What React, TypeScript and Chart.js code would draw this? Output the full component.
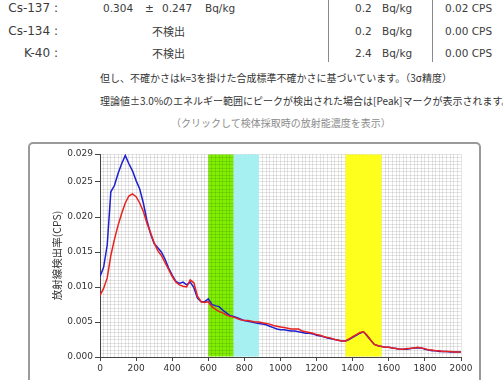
import React, { useEffect, useRef } from "react";
import { Chart, registerables } from "chart.js";

Chart.register(...registerables);

// ---- data ----
const energyStep = 20; // keV between channels below
const energyMax = 2000;

// measured spectrum (blue)
const blueCps = [
  0.0115, 0.0128, 0.0160, 0.0236, 0.0245, 0.0262, 0.0276, 0.0288, 0.0276, 0.0266,
  0.0252, 0.0240, 0.0220, 0.0195, 0.0176, 0.0162, 0.0156, 0.0150, 0.0140, 0.0127,
  0.0117, 0.0108, 0.0105, 0.0107, 0.0103, 0.0107, 0.0099, 0.0084, 0.0079, 0.0079,
  0.0083, 0.0075, 0.0073, 0.0072, 0.0067, 0.0063, 0.0059, 0.0058, 0.0056, 0.0054,
  0.0052, 0.0051, 0.0050, 0.0049, 0.0048, 0.0047, 0.0046, 0.0044, 0.0042, 0.0040,
  0.0039, 0.0039, 0.0038, 0.0037, 0.0037, 0.0036, 0.0035, 0.0034, 0.0034, 0.0033,
  0.0031, 0.0030, 0.0029, 0.0027, 0.0026, 0.0025, 0.0024, 0.0023, 0.0023, 0.0025,
  0.0028, 0.0031, 0.0034, 0.0036, 0.0030, 0.0024, 0.0018, 0.0016, 0.0015, 0.0014,
  0.0014, 0.0013, 0.0012, 0.0011, 0.0011, 0.0011, 0.0012, 0.0013, 0.0013, 0.0013,
  0.0011, 0.0010, 0.0009, 0.0009, 0.0008, 0.0008, 0.0008, 0.0007, 0.0007, 0.0007,
  0.0007,
];

// background / reference spectrum (red)
const redCps = [
  0.0088, 0.0098, 0.0113, 0.0145, 0.0168, 0.0188, 0.0205, 0.0220, 0.0230, 0.0233,
  0.0229, 0.0220, 0.0208, 0.0191, 0.0178, 0.0163, 0.0152, 0.0145, 0.0135, 0.0125,
  0.0115, 0.0107, 0.0103, 0.0101, 0.0100, 0.0110, 0.0106, 0.0087, 0.0079, 0.0078,
  0.0079, 0.0072, 0.0068, 0.0065, 0.0063, 0.0060, 0.0058, 0.0057, 0.0055, 0.0053,
  0.0052, 0.0052, 0.0051, 0.0050, 0.0050, 0.0049, 0.0048, 0.0047, 0.0045, 0.0044,
  0.0043, 0.0042, 0.0041, 0.0040, 0.0040, 0.0040, 0.0037, 0.0036, 0.0035, 0.0034,
  0.0032, 0.0031, 0.0029, 0.0028, 0.0027, 0.0025, 0.0024, 0.0023, 0.0023, 0.0026,
  0.0029, 0.0032, 0.0035, 0.0036, 0.0031, 0.0024, 0.0018, 0.0016, 0.0015, 0.0014,
  0.0014, 0.0013, 0.0012, 0.0011, 0.0011, 0.0012, 0.0012, 0.0013, 0.0014, 0.0013,
  0.0012, 0.0010, 0.0010, 0.0009, 0.0009, 0.0008, 0.0008, 0.0008, 0.0007, 0.0007,
  0.0007,
];

const yMax = 0.029;
const xMajorStep = 200;
const xMinorStep = 20;
const yMinorStep = 0.0005;
const yMajorStepMilli = 5; // 0.005

// energy windows [from, to]
const greenWindow = [600, 740];
const cyanWindow = [740, 880];
const yellowWindow = [1360, 1560];

const yAxisTitle = "放射線検出率(CPS)";

// ---- styles ----
const LATIN = '"DejaVu Sans", "Noto Sans CJK JP", sans-serif';
const CJK = '"Noto Sans CJK JP", "DejaVu Sans", sans-serif';
const GRID = "rgba(0,0,0,0.1)";
const AXIS = "#444";

const bands = [
  { range: greenWindow, color: "#80f000", underGrid: true },
  { range: cyanWindow, color: "#a6f0f2", underGrid: false },
  { range: yellowWindow, color: "#ffff1e", underGrid: false },
];

function drawBands(chart: any, underGrid: boolean) {
  const { ctx, chartArea, scales } = chart;
  ctx.save();
  bands
    .filter((b) => b.underGrid === underGrid)
    .forEach((b) => {
      const x1 = scales.x.getPixelForValue(b.range[0]);
      const x2 = scales.x.getPixelForValue(b.range[1]);
      ctx.fillStyle = b.color;
      ctx.fillRect(x1, chartArea.top + 0.5, x2 - x1, chartArea.bottom - chartArea.top - 1);
    });
  ctx.restore();
}

const bandPlugin = {
  id: "energyBands",
  beforeDraw(chart: any) {
    drawBands(chart, true);
  },
  beforeDatasetsDraw(chart: any) {
    drawBands(chart, false);
  },
};

function SpectrumChart() {
  const ref = useRef<HTMLCanvasElement | null>(null);
  useEffect(() => {
    if (!ref.current) return;
    const toPoints = (arr: number[]) => arr.map((v, i) => ({ x: i * energyStep, y: v }));
    const chart = new Chart(ref.current, {
      type: "line",
      data: {
        datasets: [
          {
            data: toPoints(redCps),
            borderColor: "#e8231f",
            borderWidth: 1.5,
            pointRadius: 0,
            tension: 0,
            fill: false,
          },
          {
            data: toPoints(blueCps),
            borderColor: "#1f1fd0",
            borderWidth: 1.5,
            pointRadius: 0,
            tension: 0,
            fill: false,
          },
        ],
      },
      options: {
        animation: false,
        responsive: false,
        maintainAspectRatio: false,
        layout: { padding: { top: 9, right: 17, left: 0, bottom: 0 } },
        plugins: { legend: { display: false }, tooltip: { enabled: false } },
        scales: {
          x: {
            type: "linear",
            min: 0,
            max: energyMax,
            afterFit: (s: any) => {
              s.height = 23;
            },
            ticks: {
              stepSize: xMinorStep,
              autoSkip: false,
              maxRotation: 0,
              padding: 2,
              color: "#333",
              font: { family: LATIN, size: 9 },
              callback: (v: any) => (Number(v) % xMajorStep === 0 ? String(v) : ""),
            },
            grid: {
              color: GRID,
              lineWidth: 1,
              drawTicks: true,
              tickLength: 4,
              tickColor: (c: any) =>
                c.tick && c.tick.value % xMajorStep === 0 ? AXIS : "rgba(0,0,0,0)",
            },
            border: { color: AXIS, width: 1 },
          },
          y: {
            min: 0,
            max: yMax,
            afterFit: (s: any) => {
              s.width = 69;
            },
            ticks: {
              stepSize: yMinorStep,
              autoSkip: false,
              padding: 2,
              color: "#333",
              font: { family: LATIN, size: 9 },
              callback: (v: any) => {
                const k = Math.round(Number(v) * 1000 * 10);
                return k % (yMajorStepMilli * 10) === 0 || k === Math.round(yMax * 10000)
                  ? Number(v).toFixed(3)
                  : "";
              },
            },
            grid: {
              color: GRID,
              lineWidth: 1,
              drawTicks: true,
              tickLength: 5,
              tickColor: (c: any) => {
                if (!c.tick) return "rgba(0,0,0,0)";
                const k = Math.round(c.tick.value * 10000);
                return k % 50 === 0 || k === Math.round(yMax * 10000) ? AXIS : "rgba(0,0,0,0)";
              },
            },
            border: { color: AXIS, width: 1 },
            title: {
              display: true,
              text: yAxisTitle,
              color: "#333",
              font: { family: CJK, size: 10.5 },
              padding: { top: 20, bottom: 0 },
            },
          },
        },
      },
      plugins: [bandPlugin],
    } as any);
    return () => chart.destroy();
  }, []);
  return (
    <canvas
      ref={ref}
      width={447}
      height={235}
      style={{ position: "absolute", left: 31, top: 145, width: 447, height: 235 }}
    />
  );
}

const abs = (left: number, top: number, extra: any = {}) => ({
  position: "absolute" as const,
  left,
  top,
  whiteSpace: "nowrap" as const,
  ...extra,
});

export default function App() {
  const labelStyle = { fontFamily: LATIN, fontSize: 12, lineHeight: "16px", color: "#3c3c3c" };
  const valStyle = { fontFamily: LATIN, fontSize: 10.5, lineHeight: "16px", color: "#3c3c3c" };
  const cjkVal = { fontFamily: CJK, fontSize: 11, lineHeight: "16px", color: "#3c3c3c" };
  const note = { fontFamily: CJK, fontSize: 10, lineHeight: "14px", color: "#333" };
  const rows = [
    { name: "Cs-137 :", top: 0 },
    { name: "Cs-134 :", top: 23 },
    { name: "K-40 :", top: 45 },
  ];
  return (
    <div
      style={{
        position: "fixed",
        left: 0,
        top: 0,
        width: 503,
        height: 380,
        overflow: "hidden",
        background: "#fff",
      }}
    >
      {rows.map((r) => (
        <div key={r.name} style={abs(0, r.top, { ...labelStyle, width: 58, textAlign: "right" })}>
          {r.name}
        </div>
      ))}
      <span style={abs(103, 0, valStyle)}>0.304</span>
      <span style={abs(145, 0, valStyle)}>±</span>
      <span style={abs(162, 0, valStyle)}>0.247</span>
      <span style={abs(205, 0, valStyle)}>Bq/kg</span>
      <span style={abs(152, 23, cjkVal)}>不検出</span>
      <span style={abs(152, 45, cjkVal)}>不検出</span>

      <div style={{ position: "absolute", left: 328, top: 0, width: 1, height: 62, background: "#8a8a8a" }} />
      <div style={{ position: "absolute", left: 432, top: 0, width: 1, height: 62, background: "#8a8a8a" }} />

      <span style={abs(355, 0, valStyle)}>0.2</span>
      <span style={abs(382, 0, valStyle)}>Bq/kg</span>
      <span style={abs(355, 23, valStyle)}>0.2</span>
      <span style={abs(382, 23, valStyle)}>Bq/kg</span>
      <span style={abs(355, 45, valStyle)}>2.4</span>
      <span style={abs(382, 45, valStyle)}>Bq/kg</span>
      <span style={abs(445, 0, valStyle)}>0.02 CPS</span>
      <span style={abs(445, 23, valStyle)}>0.00 CPS</span>
      <span style={abs(445, 45, valStyle)}>0.00 CPS</span>

      <div style={abs(100, 71, note)}>
        但し、不確かさはk=3を掛けた合成標準不確かさに基づいています。（3σ精度）
      </div>
      <div style={abs(100, 94, note)}>
        理論値±3.0%のエネルギー範囲にピークが検出された場合は[Peak]マークが表示されます。
      </div>
      <div style={abs(171, 116, { ...note, color: "#8c8c8c" })}>
        （クリックして検体採取時の放射能濃度を表示）
      </div>

      <div
        style={{
          position: "absolute",
          left: 28,
          top: 142,
          width: 453,
          height: 300,
          border: "2px solid #9a9a9a",
          borderRadius: 5,
          boxSizing: "border-box",
          background: "#fff",
        }}
      />
      <SpectrumChart />
    </div>
  );
}
